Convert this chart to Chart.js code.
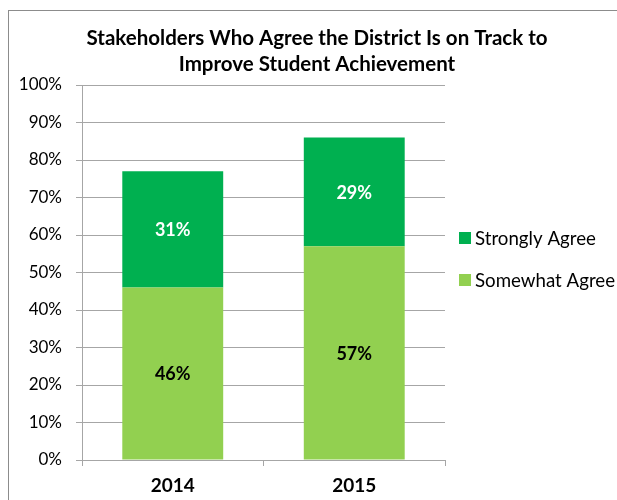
<!DOCTYPE html>
<html>
<head>
<meta charset="utf-8">
<script src="https://cdn.jsdelivr.net/npm/chart.js@4.4.0/dist/chart.umd.min.js"></script>
<style>
  html, body { margin: 0; padding: 0; background: #ffffff; }
  #wrap { width: 617px; height: 500px; position: relative; }
</style>
</head>
<body>
<div id="wrap"><canvas id="c" width="617" height="500"></canvas></div>
<script>
const titleLines = ["Stakeholders Who Agree the District Is on Track to", "Improve Student Achievement"];
const categories = ["2014", "2015"];
const somewhatAgree = [46, 57];
const stronglyAgree = [31, 29];
const seriesNames = ["Somewhat Agree", "Strongly Agree"];
const yTicks = [0, 10, 20, 30, 40, 50, 60, 70, 80, 90, 100];

const FONT = "Lato, 'Open Sans', sans-serif";
const LIGHT = "#92D050";
const DARK = "#00B050";

const frameTitleLegend = {
  id: "frameTitleLegend",
  afterDraw(chart) {
    const ctx = chart.ctx;
    ctx.save();
    // outer frame
    ctx.strokeStyle = "#8c8c8c";
    ctx.lineWidth = 1;
    ctx.strokeRect(8.5, 10.5, 800, 800);
    // title
    ctx.fillStyle = "#000000";
    ctx.font = "bold 20.5px " + FONT;
    ctx.textAlign = "center";
    ctx.textBaseline = "middle";
    titleLines.forEach((t, i) => ctx.fillText(t, 317, 38 + i * 26));
    // legend (reverse order: top series first)
    ctx.font = "18.7px " + FONT;
    ctx.textAlign = "left";
    const ds = chart.data.datasets.slice().reverse();
    ds.forEach((d, i) => {
      const y = 238 + i * 42;
      ctx.fillStyle = d.backgroundColor;
      ctx.fillRect(459, y - 6, 12, 12);
      ctx.fillStyle = "#000000";
      ctx.fillText(d.label, 475, y + 1);
    });
    ctx.restore();
  }
};

const barLabels = {
  id: "barLabels",
  afterDatasetsDraw(chart) {
    const ctx = chart.ctx;
    ctx.save();
    ctx.font = "bold 18px " + FONT;
    ctx.textAlign = "center";
    ctx.textBaseline = "middle";
    chart.data.datasets.forEach((d, di) => {
      const meta = chart.getDatasetMeta(di);
      meta.data.forEach((el, i) => {
        const cy = (el.y + el.base) / 2;
        ctx.fillStyle = d.labelColor;
        ctx.fillText(d.data[i] + "%", el.x, cy + 1);
      });
    });
    ctx.restore();
  }
};

new Chart(document.getElementById("c"), {
  type: "bar",
  data: {
    labels: categories,
    datasets: [
      { label: seriesNames[0], data: somewhatAgree, backgroundColor: LIGHT, labelColor: "#000000", barPercentage: 0.556, categoryPercentage: 1 },
      { label: seriesNames[1], data: stronglyAgree, backgroundColor: DARK, labelColor: "#ffffff", barPercentage: 0.556, categoryPercentage: 1 }
    ]
  },
  options: {
    responsive: false,
    animation: false,
    devicePixelRatio: 1,
    layout: { padding: { left: 15, right: 172, top: 85, bottom: 0 } },
    plugins: {
      legend: { display: false },
      title: { display: false },
      tooltip: { enabled: false }
    },
    scales: {
      x: {
        stacked: true,
        grid: { display: true, drawOnChartArea: false, drawTicks: true, tickLength: 6, color: "#a6a6a6", offset: true },
        border: { display: true, color: "#a6a6a6" },
        ticks: { color: "#000000", font: { family: FONT, size: 19, weight: "bold" }, padding: 8 },
        afterFit(s) { s.height = 40; }
      },
      y: {
        stacked: true,
        min: 0,
        max: 100,
        afterBuildTicks(s) { s.ticks = yTicks.map(v => ({ value: v })); },
        grid: { color: "#a6a6a6", tickLength: 6 },
        border: { display: true, color: "#a6a6a6" },
        ticks: { color: "#000000", font: { family: FONT, size: 17 }, padding: 14, callback: v => v + "%" },
        afterFit(s) { s.width = 67; }
      }
    }
  },
  plugins: [barLabels, frameTitleLegend]
});
</script>
</body>
</html>
